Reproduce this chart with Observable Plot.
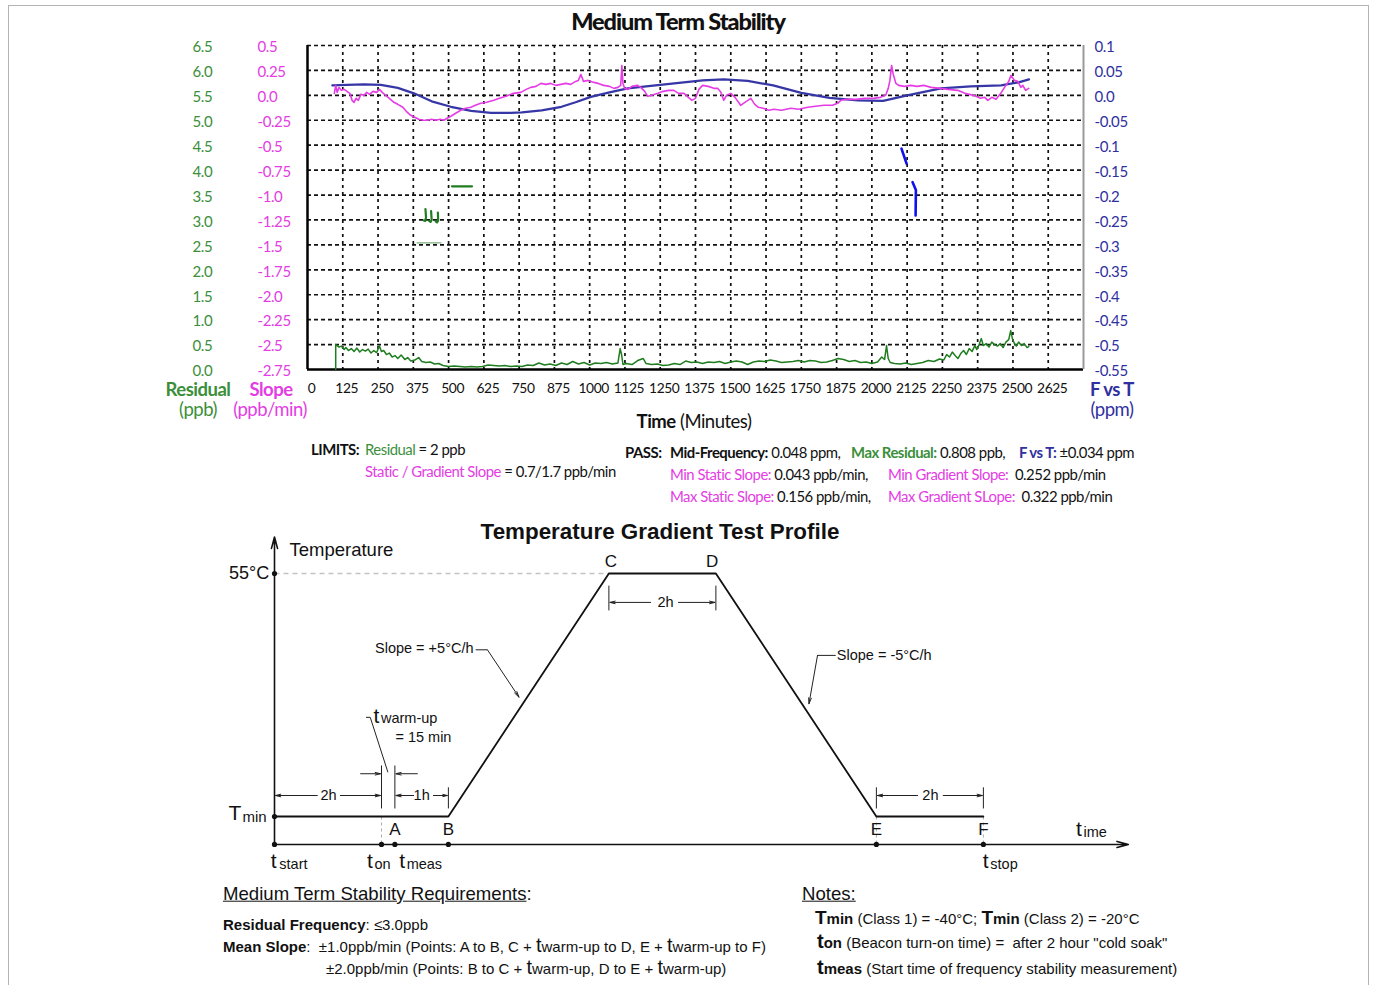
<!DOCTYPE html>
<html><head><meta charset="utf-8">
<script src="https://cdn.jsdelivr.net/npm/d3@7"></script>
<script src="https://cdn.jsdelivr.net/npm/@observablehq/plot@0.6"></script>
<style>
body{margin:0;background:#fff;}
#page{position:relative;width:1375px;height:985px;overflow:hidden;background:#fff;font-family:Lato,sans-serif;}
.t{position:absolute;white-space:nowrap;transform:translateY(-50%);line-height:1;}
.c{transform:translate(-50%,-50%);}
.svgwrap{position:absolute;left:0;}
#frame{position:absolute;left:8px;top:5px;width:1361px;height:985px;border:1px solid #b4b4b4;box-sizing:border-box;}
.top{font-family:Lato,sans-serif;letter-spacing:-0.5px;}
.arial{font-family:"Liberation Sans",Arial,sans-serif;}
</style></head><body><div id="page"><div id="frame"></div></div>
<script>
// ---------------- Top chart data ----------------
const timeTicks = [0,125,250,375,500,625,750,875,1000,1125,1250,1375,1500,1625,1750,1875,2000,2125,2250,2375,2500,2625];
const residualTicks = [6.5,6.0,5.5,5.0,4.5,4.0,3.5,3.0,2.5,2.0,1.5,1.0,0.5,0.0];
const residualLabels = ["6.5","6.0","5.5","5.0","4.5","4.0","3.5","3.0","2.5","2.0","1.5","1.0","0.5","0.0"];
const slopeTicks = [0.5,0.25,0,-0.25,-0.5,-0.75,-1.0,-1.25,-1.5,-1.75,-2.0,-2.25,-2.5,-2.75];
const slopeLabels = ["0.5","0.25","0.0","-0.25","-0.5","-0.75","-1.0","-1.25","-1.5","-1.75","-2.0","-2.25","-2.5","-2.75"];
const fvtTicks = [0.1,0.05,0,-0.05,-0.1,-0.15,-0.2,-0.25,-0.3,-0.35,-0.4,-0.45,-0.5,-0.55];
const fvtLabels = ["0.1","0.05","0.0","-0.05","-0.1","-0.15","-0.2","-0.25","-0.3","-0.35","-0.4","-0.45","-0.5","-0.55"];

// F vs T (ppm)
const fvtData = [[88,0.020],[140,0.021],[200,0.022],[260,0.021],[320,0.015],[377,0.004],[440,-0.012],[508,-0.023],[580,-0.031],[650,-0.035],[720,-0.035],[760,-0.034],[830,-0.030],[900,-0.023],[950,-0.014],[1004,-0.003],[1070,0.006],[1135,0.014],[1200,0.018],[1300,0.024],[1400,0.030],[1475,0.032],[1560,0.029],[1650,0.020],[1750,0.005],[1850,-0.005],[1950,-0.010],[2040,-0.011],[2125,0.000],[2245,0.014],[2350,0.018],[2458,0.020],[2520,0.026],[2557,0.032]];
const fvtFragments = [[2105,-0.107,1],[2123,-0.137,1],[2144,-0.174,2],[2156,-0.19,2],[2155,-0.241,2]];

// Slope (ppb/min)
const slopeData = [[95,0.02],[100,0.10],[105,0.03],[112,0.08],[120,0.05],[130,0.06],[140,0.04],[150,0.02],[158,-0.05],[165,-0.07],[172,-0.03],[180,-0.05],[189,0.01],[200,0.0],[210,0.03],[220,0.01],[232,0.04],[245,0.03],[255,0.06],[265,0.03],[277,0.0],[290,-0.03],[306,-0.07],[320,-0.09],[338,-0.12],[350,-0.16],[366,-0.20],[380,-0.22],[394,-0.24],[410,-0.25],[426,-0.25],[440,-0.24],[455,-0.25],[470,-0.24],[483,-0.25],[495,-0.23],[508,-0.21],[525,-0.18],[543,-0.15],[560,-0.13],[579,-0.12],[595,-0.10],[614,-0.08],[635,-0.07],[660,-0.05],[680,-0.03],[703,-0.01],[730,0.02],[756,0.03],[775,0.06],[791,0.08],[810,0.09],[827,0.12],[845,0.11],[862,0.12],[880,0.10],[898,0.11],[915,0.12],[933,0.11],[950,0.14],[960,0.15],[969,0.21],[978,0.14],[994,0.15],[1015,0.13],[1030,0.12],[1050,0.10],[1070,0.09],[1086,0.07],[1100,0.08],[1110,0.10],[1114,0.30],[1118,0.12],[1124,0.07],[1135,0.06],[1150,0.09],[1170,0.10],[1181,0.08],[1195,0.04],[1206,-0.01],[1220,0.0],[1242,0.02],[1260,0.04],[1280,0.05],[1298,0.05],[1315,0.02],[1334,0.02],[1350,-0.02],[1362,-0.05],[1375,-0.03],[1387,0.06],[1400,0.10],[1420,0.09],[1440,0.07],[1454,0.07],[1465,0.03],[1475,-0.05],[1485,0.0],[1500,0.02],[1515,-0.02],[1535,-0.10],[1550,-0.07],[1571,-0.03],[1585,-0.09],[1598,-0.12],[1615,-0.13],[1635,-0.15],[1653,-0.14],[1680,-0.15],[1713,-0.13],[1740,-0.14],[1773,-0.12],[1800,-0.11],[1830,-0.10],[1860,-0.10],[1879,-0.08],[1890,-0.05],[1910,-0.04],[1943,-0.04],[1975,-0.03],[2007,-0.03],[2030,-0.02],[2049,0.0],[2058,0.07],[2064,0.15],[2070,0.30],[2075,0.22],[2085,0.12],[2095,0.10],[2115,0.09],[2138,0.10],[2160,0.09],[2184,0.10],[2210,0.08],[2244,0.07],[2270,0.06],[2304,0.05],[2330,0.02],[2361,0.0],[2385,-0.03],[2400,-0.02],[2411,-0.05],[2425,-0.02],[2440,-0.04],[2457,0.02],[2470,0.08],[2485,0.14],[2493,0.20],[2505,0.15],[2517,0.14],[2528,0.08],[2535,0.10],[2545,0.05],[2556,0.07]];

// Residual (ppb)
const residualData = [[100,0],[100,0.5],[105,0.48],[112,0.45],[120,0.47],[130,0.40],[136,0.44],[145,0.38],[155,0.42],[165,0.36],[175,0.43],[185,0.35],[195,0.40],[205,0.37],[215,0.41],[225,0.33],[235,0.38],[245,0.34],[255,0.47],[262,0.36],[270,0.38],[280,0.30],[290,0.33],[300,0.25],[310,0.28],[320,0.22],[332,0.29],[345,0.20],[355,0.24],[366,0.17],[380,0.19],[394,0.24],[405,0.16],[420,0.14],[435,0.15],[450,0.11],[465,0.12],[480,0.08],[500,0.06],[520,0.07],[540,0.06],[560,0.05],[580,0.06],[600,0.05],[620,0.06],[640,0.09],[660,0.08],[680,0.07],[700,0.08],[720,0.06],[740,0.07],[760,0.06],[780,0.09],[800,0.08],[820,0.13],[840,0.09],[860,0.11],[880,0.08],[900,0.13],[920,0.10],[940,0.16],[960,0.11],[980,0.14],[1000,0.09],[1020,0.13],[1040,0.12],[1060,0.14],[1080,0.11],[1100,0.13],[1108,0.42],[1113,0.30],[1118,0.10],[1130,0.12],[1150,0.10],[1170,0.18],[1190,0.22],[1200,0.12],[1220,0.10],[1240,0.11],[1260,0.08],[1280,0.09],[1300,0.12],[1320,0.10],[1340,0.17],[1360,0.14],[1380,0.15],[1400,0.12],[1420,0.15],[1440,0.14],[1460,0.16],[1480,0.12],[1500,0.15],[1520,0.17],[1540,0.15],[1560,0.10],[1580,0.15],[1600,0.17],[1620,0.16],[1640,0.19],[1660,0.17],[1680,0.14],[1700,0.15],[1720,0.16],[1740,0.18],[1760,0.15],[1780,0.18],[1800,0.17],[1820,0.14],[1840,0.15],[1860,0.18],[1880,0.22],[1900,0.20],[1920,0.16],[1940,0.18],[1960,0.14],[1980,0.15],[2000,0.12],[2020,0.15],[2035,0.25],[2045,0.20],[2052,0.48],[2058,0.22],[2065,0.14],[2080,0.12],[2100,0.11],[2120,0.13],[2140,0.10],[2160,0.12],[2180,0.14],[2200,0.18],[2220,0.16],[2240,0.21],[2255,0.19],[2265,0.30],[2275,0.25],[2285,0.35],[2295,0.28],[2305,0.22],[2315,0.32],[2325,0.38],[2335,0.30],[2345,0.42],[2355,0.36],[2365,0.48],[2372,0.40],[2380,0.50],[2388,0.62],[2395,0.48],[2405,0.52],[2415,0.45],[2425,0.55],[2435,0.50],[2445,0.47],[2455,0.52],[2465,0.44],[2475,0.55],[2485,0.60],[2492,0.78],[2498,0.62],[2505,0.52],[2512,0.47],[2520,0.55],[2530,0.48],[2540,0.52],[2550,0.44],[2556,0.46]];
// stray residual fragments (t, ppb, group)
const residualFragments = [[512,3.675,1],[583,3.675,1],
  [418,3.22,2],[420,3.05,2],[417,2.98,2],[412,2.99,2],
  [438,3.18,3],[440,3.0,3],[436,2.96,3],[431,2.98,3],
  [462,3.15,4],[463,2.99,4],[459,2.95,4],[454,2.97,4]];
const residualThin = [[388,2.54],[473,2.54]];

const resToSlope = r => -2.75 + r * 0.5;
const ppmToSlope = p => -2.75 + (p + 0.55) * 5;

const green = "#1f7d1f", magenta = "#e63ce6", navy = "#3636a6";
const greenTxt = "#3b8f3b", magTxt = "#e33de3", navyTxt = "#3030a0";

const stabilityChart = Plot.plot({
  width: 1375, height: 430,
  marginLeft: 307, marginRight: 292, marginTop: 45, marginBottom: 61,
  x: {domain: [0, 2750], axis: null},
  y: {domain: [-2.75, 0.5], axis: null},
  style: {fontFamily: "Lato, sans-serif", fontSize: "14px", letterSpacing: "-0.4px", background: "transparent", overflow: "visible"},
  marks: [
    Plot.ruleY(slopeTicks.filter(d => d > -2.75), {stroke: "#111", strokeWidth: 1.7, strokeDasharray: "4,3"}),
    Plot.ruleX(timeTicks.filter(d => d > 0), {stroke: "#111", strokeWidth: 1.7, strokeDasharray: "3,4"}),
    Plot.ruleX([0], {stroke: "#000", strokeWidth: 2.5}),
    Plot.ruleY([-2.75], {stroke: "#000", strokeWidth: 2.5}),
    Plot.ruleX([2750], {stroke: "#9a9a9a", strokeWidth: 2}),
    Plot.line(fvtData, {x: d => d[0], y: d => ppmToSlope(d[1]), stroke: navy, strokeWidth: 2.2}),
    Plot.line(slopeData, {x: d => d[0], y: d => d[1], stroke: magenta, strokeWidth: 1.6}),
    Plot.line(residualData, {x: d => d[0], y: d => resToSlope(d[1]), stroke: green, strokeWidth: 1.5}),
    Plot.line(residualFragments, {x: d => d[0], y: d => resToSlope(d[1]), z: d => d[2], stroke: green, strokeWidth: 2.2}),
    Plot.line(residualThin, {x: d => d[0], y: d => resToSlope(d[1]), stroke: "#5a9a5a", strokeWidth: 1}),
    Plot.line(fvtFragments, {x: d => d[0], y: d => ppmToSlope(d[1]), z: d => d[2], stroke: "#1010ee", strokeWidth: 2.6}),
    Plot.text(residualTicks, {y: d => resToSlope(d), text: (d, i) => residualLabels[i], frameAnchor: "left", textAnchor: "start", dx: -115, dy: 2, fill: greenTxt, fontSize: 15}),
    Plot.text(slopeTicks, {y: d => d, text: (d, i) => slopeLabels[i], frameAnchor: "left", textAnchor: "start", dx: -50, dy: 2, fill: magTxt, fontSize: 15}),
    Plot.text(fvtTicks, {y: d => ppmToSlope(d), text: (d, i) => fvtLabels[i], frameAnchor: "right", textAnchor: "start", dx: 11, dy: 2, fill: navyTxt, fontSize: 15}),
    Plot.text(timeTicks, {x: d => d, text: d => String(d), frameAnchor: "bottom", dx: 4, dy: 23.5, fill: "#111", fontSize: 13.8})
  ]
});
const w1 = document.createElement("div"); w1.className = "svgwrap"; w1.style.top = "0px"; w1.appendChild(stabilityChart);
document.getElementById("page").appendChild(w1);

// ---------------- Temperature profile diagram data ----------------
const AXIS = -0.115;
const profile = [{t: 0, v: 0}, {t: 3.25, v: 0}, {t: 6.25, v: 1}, {t: 8.25, v: 1}, {t: 11.25, v: 0}, {t: 13.25, v: 0}];
const timeDots = [0, 2, 2.25, 3.25, 11.25, 13.25];
const levelDots = [0, 1];
const lowLetters = [{s: "A", t: 2.25}, {s: "B", t: 3.25}, {s: "E", t: 11.25}, {s: "F", t: 13.25}];
const highLetters = [{s: "C", t: 6.29}, {s: "D", t: 8.18}];
const axesLines = [{x1: 0, y1: AXIS, x2: 0, y2: 1.15}, {x1: 0, y1: AXIS, x2: 15.96, y2: AXIS}];
const extLines = [{x1: 2, y1: 0.21, x2: 2, y2: 0.033}, {x1: 2.25, y1: 0.21, x2: 2.25, y2: 0.033},
  {x1: 3.25, y1: 0.12, x2: 3.25, y2: 0.033}, {x1: 6.25, y1: 0.95, x2: 6.25, y2: 0.848},
  {x1: 8.25, y1: 0.95, x2: 8.25, y2: 0.848}, {x1: 11.25, y1: 0.12, x2: 11.25, y2: 0.033},
  {x1: 13.25, y1: 0.12, x2: 13.25, y2: 0.033}];
const dropLines = [{x1: 2, y1: 0, x2: 2, y2: AXIS}, {x1: 11.25, y1: 0, x2: 11.25, y2: AXIS}, {x1: 13.25, y1: 0, x2: 13.25, y2: AXIS}];
const topDash = [{x1: 0, y1: 1, x2: 6.25, y2: 1}];
const dimArrows = [
  {x1: 0.80, y1: 0.0864, x2: 0.02, y2: 0.0864}, {x1: 1.23, y1: 0.0864, x2: 1.98, y2: 0.0864},
  {x1: 2.60, y1: 0.0864, x2: 2.27, y2: 0.0864}, {x1: 2.97, y1: 0.0864, x2: 3.23, y2: 0.0864},
  {x1: 1.61, y1: 0.176, x2: 1.98, y2: 0.176}, {x1: 2.67, y1: 0.176, x2: 2.27, y2: 0.176},
  {x1: 7.03, y1: 0.881, x2: 6.27, y2: 0.881}, {x1: 7.55, y1: 0.881, x2: 8.23, y2: 0.881},
  {x1: 12.02, y1: 0.0864, x2: 11.27, y2: 0.0864}, {x1: 12.50, y1: 0.0864, x2: 13.23, y2: 0.0864}];
const leaderLines = [{x1: 3.76, y1: 0.686, x2: 3.98, y2: 0.686}, {x1: 10.49, y1: 0.663, x2: 10.15, y2: 0.663},
  {x1: 1.71, y1: 0.408, x2: 1.79, y2: 0.408}];
const leaderArrows = [{x1: 3.98, y1: 0.686, x2: 4.57, y2: 0.491}, {x1: 10.15, y1: 0.663, x2: 9.99, y2: 0.464}];
const warmLeader = [{x1: 1.79, y1: 0.408, x2: 2.12, y2: 0.182}];
const dimTexts = [{s: "2h", t: 1.01, v: 0.0864}, {s: "1h", t: 2.75, v: 0.0864}, {s: "2h", t: 7.31, v: 0.881}, {s: "2h", t: 12.26, v: 0.0864}];
const notes = [{s: "Slope = +5°C/h", t: 3.72, v: 0.691, a: "end"}, {s: "Slope = -5°C/h", t: 10.51, v: 0.663, a: "start"},
  {s: "= 15 min", t: 2.26, v: 0.325, a: "start"}, {s: "Temperature", t: 0.28, v: 1.095, a: "start"}, {s: "55°C", t: -0.10, v: 1.0, a: "end"}];
const bigT = [{s: "t", t: -0.07, v: -0.185}, {s: "t", t: 1.73, v: -0.185}, {s: "t", t: 2.33, v: -0.185}, {s: "t", t: 13.24, v: -0.185},
  {s: "t", t: 14.98, v: -0.054}, {s: "t", t: 1.85, v: 0.412}];
const subT = [{s: "start", t: 0.09, v: -0.195}, {s: "on", t: 1.87, v: -0.195}, {s: "meas", t: 2.47, v: -0.195}, {s: "stop", t: 13.38, v: -0.195},
  {s: "ime", t: 15.12, v: -0.064}, {s: "warm-up", t: 1.99, v: 0.402}];

const diag = Plot.plot({
  width: 1375, height: 375,
  marginLeft: 274, marginRight: 245, marginTop: 14.4, marginBottom: 8.25,
  x: {domain: [0, 16], axis: null},
  y: {domain: [-0.25, 1.2], axis: null},
  style: {fontFamily: "'Liberation Sans', Arial, sans-serif", background: "transparent", overflow: "visible"},
  marks: [
    Plot.link(topDash, {x1: "x1", y1: "y1", x2: "x2", y2: "y2", stroke: "#c4c4c4", strokeWidth: 1.3, strokeDasharray: "5,4"}),
    Plot.link(dropLines, {x1: "x1", y1: "y1", x2: "x2", y2: "y2", stroke: "#aaa", strokeWidth: 1, strokeDasharray: "3,3"}),
    Plot.arrow(axesLines, {x1: "x1", y1: "y1", x2: "x2", y2: "y2", stroke: "#111", strokeWidth: 1.6, headLength: 11, headAngle: 30}),
    Plot.line(profile, {x: "t", y: "v", stroke: "#111", strokeWidth: 1.8}),
    Plot.link(extLines, {x1: "x1", y1: "y1", x2: "x2", y2: "y2", stroke: "#222", strokeWidth: 1}),
    Plot.arrow(dimArrows, {x1: "x1", y1: "y1", x2: "x2", y2: "y2", stroke: "#222", strokeWidth: 1, headLength: 8, headAngle: 28}),
    Plot.link(leaderLines, {x1: "x1", y1: "y1", x2: "x2", y2: "y2", stroke: "#222", strokeWidth: 1}),
    Plot.arrow(leaderArrows, {x1: "x1", y1: "y1", x2: "x2", y2: "y2", stroke: "#222", strokeWidth: 1, headLength: 9, headAngle: 26}),
    Plot.link(warmLeader, {x1: "x1", y1: "y1", x2: "x2", y2: "y2", stroke: "#222", strokeWidth: 1}),
    Plot.dot(timeDots, {x: d => d, y: AXIS, r: 2.6, fill: "#111"}),
    Plot.dot(levelDots, {x: 0, y: d => d, r: 2.6, fill: "#111"}),
    Plot.text(lowLetters, {x: "t", y: -0.0535, text: "s", fontSize: 17, fill: "#111"}),
    Plot.text(highLetters, {x: "t", y: 1.049, text: "s", fontSize: 17, fill: "#111"}),
    Plot.text(dimTexts, {x: "t", y: "v", text: "s", fontSize: 14.5, fill: "#111"}),
    Plot.text(notes.filter(d => d.a === "end"), {x: "t", y: "v", text: "s", fontSize: d => d.s === "55°C" ? 18 : 14.5, textAnchor: "end", fill: "#111"}),
    Plot.text(notes.filter(d => d.a === "start"), {x: "t", y: "v", text: "s", fontSize: d => d.s === "Temperature" ? 18.5 : 14.5, textAnchor: "start", fill: "#111"}),
    Plot.text(bigT, {x: "t", y: "v", text: "s", fontSize: 21, textAnchor: "start", fill: "#111"}),
    Plot.text(subT, {x: "t", y: "v", text: "s", fontSize: 14.5, textAnchor: "start", fill: "#111"}),
    Plot.text(["T"], {x: -0.86, y: 0.012, text: d => d, fontSize: 21, textAnchor: "start", fill: "#111"}),
    Plot.text(["min"], {x: -0.60, y: -0.004, text: d => d, fontSize: 15, textAnchor: "start", fill: "#111"})
  ]
});
const w2 = document.createElement("div"); w2.className = "svgwrap"; w2.style.top = "510px"; w2.appendChild(diag);
document.getElementById("page").appendChild(w2);

// ---------------- HTML text ----------------
const pageEl = document.getElementById("page");
function put(x, y, html, cls, style) {
  const d = document.createElement("div");
  d.className = "t " + (cls || "");
  d.style.left = x + "px"; d.style.top = y + "px";
  if (style) d.setAttribute("style", d.getAttribute("style") + ";" + style);
  d.innerHTML = html; pageEl.appendChild(d); return d;
}
put(678, 22, "Medium Term Stability", "c top", "font-weight:900;font-size:23.5px;letter-spacing:-1.1px;color:#111");
const axT = "font-size:18.5px;";
put(198, 389, "Residual", "c top", axT + "font-weight:bold;color:" + greenTxt);
put(198, 409, "(ppb)", "c top", axT + "color:" + greenTxt);
put(271, 389, "Slope", "c top", axT + "font-weight:bold;color:" + magTxt);
put(270, 409, "(ppb/min)", "c top", axT + "color:" + magTxt);
put(1112, 389, "F vs T", "c top", axT + "font-weight:bold;color:" + navyTxt);
put(1112, 409, "(ppm)", "c top", axT + "color:" + navyTxt);
put(694, 421, "<b>Time</b> (Minutes)", "c top", axT + "color:#111");
const fs = "font-size:14.9px;color:#111;";
put(311, 449, "<b style='font-weight:700'>LIMITS:</b>", "top", fs);
put(365, 449, "<span style='color:" + greenTxt + "'>Residual</span> = 2 ppb", "top", fs);
put(365, 471, "<span style='color:" + magTxt + "'>Static / Gradient Slope</span> = 0.7/1.7 ppb/min", "top", fs);
put(625, 452, "<b>PASS:</b>", "top", fs);
put(670, 452, "<b>Mid-Frequency:</b> 0.048 ppm,", "top", fs);
put(851, 452, "<b style='color:" + greenTxt + "'>Max Residual:</b> 0.808 ppb,", "top", fs);
put(1019, 452, "<b style='color:" + navyTxt + "'>F vs T:</b> ±0.034 ppm", "top", fs);
put(670, 474, "<span style='color:" + magTxt + "'>Min Static Slope:</span> 0.043 ppb/min,", "top", fs);
put(888, 474, "<span style='color:" + magTxt + "'>Min Gradient Slope:</span>&nbsp; 0.252 ppb/min", "top", fs);
put(670, 496, "<span style='color:" + magTxt + "'>Max Static Slope:</span> 0.156 ppb/min,", "top", fs);
put(888, 496, "<span style='color:" + magTxt + "'>Max Gradient SLope:</span>&nbsp; 0.322 ppb/min", "top", fs);
put(660, 532, "Temperature Gradient Test Profile", "c arial", "font-weight:bold;font-size:22.4px;color:#111");
const bt = "<span style='font-size:20px'>t</span>";
const fs2 = "font-size:15px;color:#111;";
put(223, 894, "<u>Medium Term Stability Requirements</u>:", "arial", "font-size:18.6px;color:#111");
put(223, 924, "<b>Residual Frequency</b>: ≤3.0ppb", "arial", fs2);
put(223, 945, "<b>Mean Slope</b>:&nbsp; ±1.0ppb/min (Points: A to B, C + " + bt + "warm-up to D, E + " + bt + "warm-up to F)", "arial", fs2);
put(326, 967, "±2.0ppb/min (Points: B to C + " + bt + "warm-up, D to E + " + bt + "warm-up)", "arial", fs2);
put(802, 894, "<u>Notes:</u>", "arial", "font-size:18.6px;color:#111");
put(815, 917, "<b><span style='font-size:19px'>T</span>min</b> (Class 1) = -40°C; <b><span style='font-size:19px'>T</span>min</b> (Class 2) = -20°C", "arial", fs2);
put(817, 941, "<b><span style='font-size:20px'>t</span>on</b> (Beacon turn-on time) =&nbsp; after 2 hour \"cold soak\"", "arial", fs2);
put(817, 967, "<b><span style='font-size:20px'>t</span>meas</b> (Start time of frequency stability measurement)", "arial", fs2);
</script></body></html>
